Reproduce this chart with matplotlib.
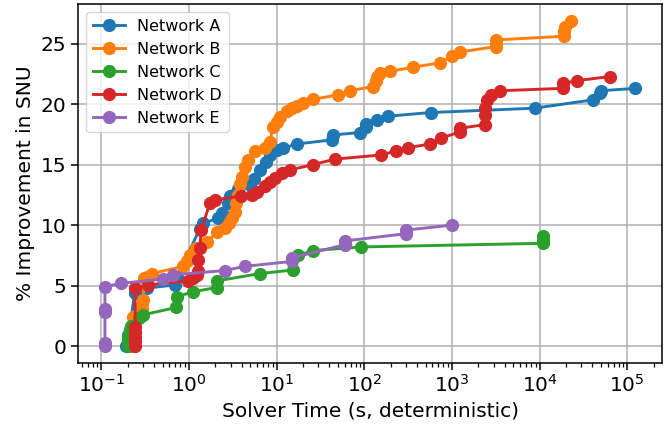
import matplotlib
matplotlib.use("Agg")
import matplotlib.pyplot as plt
from matplotlib.ticker import LogLocator

# solver time (s) and % improvement, one pair of lists per network
time_a = [0.19, 0.20, 0.20, 0.21, 0.24, 0.33, 0.69, 0.73, 1.33, 1.45, 2.16, 2.36, 2.8,
          2.93, 3.35, 3.6, 4.97, 5.5, 6.46, 7.5, 8.38, 10.0, 11.9, 16.9, 42.4, 44.0,
          89.0, 104.0, 106.0, 138.0, 187.0, 570.0, 8800.0, 40700.0, 48500.0, 50000.0,
          124000.0]
impr_a = [0.0, 0.4, 0.9, 1.3, 4.4, 4.8, 5.06, 5.7, 9.7, 10.15, 10.57, 11.0, 11.8,
          12.4, 12.6, 13.0, 13.3, 13.8, 14.56, 15.2, 15.8, 16.2, 16.35, 16.7, 17.04, 17.45,
          17.65, 18.14, 18.36, 18.7, 19.0, 19.3, 19.66, 20.35, 20.9, 21.1,
          21.3]

time_b = [0.22, 0.22, 0.23, 0.23, 0.23, 0.29, 0.29, 0.30, 0.31, 0.33, 0.376, 0.86, 0.94,
          1.03, 1.2, 1.6, 2.07, 2.57, 2.9, 3.1, 3.35, 3.47, 3.65, 3.85, 3.98, 4.35, 4.74,
          5.6, 7.3, 8.38, 9.14, 10.0, 10.9, 13.0, 14.8, 16.9, 20.1, 26.1, 50.4, 68.5, 126.0,
          135.0, 138.0, 150.0, 196.0, 361.0, 728.0, 990.0, 1230.0, 3170.0, 3170.0, 3170.0,
          18900.0, 19000.0, 19500.0, 23100.0]
impr_b = [0.0, 0.5, 1.0, 1.75, 2.4, 3.1, 3.5, 3.8, 5.6, 5.74, 6.0, 6.6, 7.0,
          7.5, 8.1, 8.6, 9.4, 9.74, 10.2, 10.6, 11.1, 11.8, 12.5, 13.4, 14.0, 14.8, 15.4,
          16.1, 16.35, 16.9, 18.14, 18.55, 18.9, 19.4, 19.66, 19.8, 20.07, 20.4, 20.76, 21.1, 21.45,
          21.9, 22.27, 22.6, 22.7, 23.05, 23.4, 23.93, 24.3, 24.75, 25.0, 25.3,
          25.6, 26.0, 26.4, 26.9]

time_c = [0.20, 0.20, 0.20, 0.21, 0.22, 0.27, 0.30, 0.72, 0.73, 1.12, 2.07, 2.1, 6.4,
          15.5, 17.6, 26.0, 91.0, 11000.0, 11000.0, 11000.0]
impr_c = [0.0, 0.3, 0.8, 1.3, 1.7, 2.3, 2.6, 3.2, 4.1, 4.5, 4.85, 5.4, 6.0,
          6.3, 7.5, 7.9, 8.2, 8.5, 8.8, 9.1]

time_d = [0.24, 0.24, 0.24, 0.245, 0.245, 0.242, 0.34, 0.98, 1.1, 1.22, 1.28, 1.28, 1.33,
          1.38, 1.73, 1.98, 3.9, 5.2, 5.9, 7.3, 8.4, 9.6, 11.4, 14.2, 26.1, 46.0, 157.0,
          233.0, 316.0, 560.0, 760.0, 1230.0, 1230.0, 2370.0, 2400.0, 2400.0, 2480.0,
          2770.0, 3520.0, 18500.0, 18500.0, 27000.0, 63000.0]
impr_d = [0.0, 0.4, 0.8, 1.2, 1.6, 4.8, 5.06, 5.4, 5.6, 5.9, 6.2, 7.1, 8.1,
          9.6, 11.8, 12.1, 12.4, 12.5, 12.77, 13.2, 13.6, 13.9, 14.3, 14.56, 15.0, 15.45, 15.8,
          16.13, 16.4, 16.7, 17.2, 17.7, 18.0, 18.3, 19.1, 19.7, 20.35,
          20.76, 21.1, 21.3, 21.7, 21.94, 22.27]

time_e = [0.11, 0.11, 0.11, 0.11, 0.11, 0.17, 0.51, 0.65, 2.57, 4.35, 14.8, 15.0, 61.0,
          61.0, 303.0, 303.0, 1005.0]
impr_e = [0.0, 0.3, 2.8, 3.1, 4.9, 5.2, 5.55, 5.9, 6.25, 6.6, 7.0, 7.3, 8.4,
          8.7, 9.3, 9.6, 10.0]

labels = ['Network A', 'Network B', 'Network C', 'Network D', 'Network E']
x_ticks = [1e-1, 1e0, 1e1, 1e2, 1e3, 1e4, 1e5]
y_ticks = [0, 5, 10, 15, 20, 25]

series = [(time_a, impr_a), (time_b, impr_b), (time_c, impr_c),
          (time_d, impr_d), (time_e, impr_e)]

fig = plt.figure(figsize=(6.7, 4.24), dpi=100)
ax = fig.add_axes([0.117, 0.145, 0.871, 0.845])

for (t, v), lab in zip(series, labels):
    ax.plot(t, v, marker='o', markersize=8.5, linewidth=2.1, label=lab)

ax.set_xscale('log')
xlim = ax.get_xlim()
ax.set_xticks(x_ticks)
ax.xaxis.set_minor_locator(LogLocator(base=10, subs=range(2, 10), numticks=20))
ax.set_xlim(xlim)
ax.set_yticks(y_ticks)
ax.grid(True, which='major', color='#b0b0b0', linewidth=1.1)
ax.tick_params(axis='both', which='major', labelsize=14.5, length=5, width=1.1)
ax.tick_params(axis='x', which='minor', length=3, width=0.9)
for s in ax.spines.values():
    s.set_linewidth(1.1)

ax.set_xlabel('Solver Time (s, deterministic)', fontsize=14.5)
ax.set_ylabel('% Improvement in SNU', fontsize=14.5)
ax.legend(loc='upper left', fontsize=11.5)

fig.savefig('out.png', dpi=100)
